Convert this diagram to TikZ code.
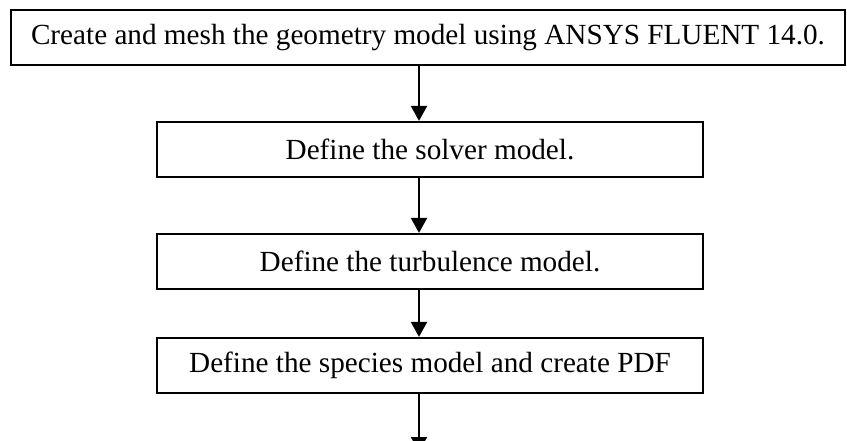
\documentclass[tikz,border=0pt]{standalone}
\usepackage{fontspec}
\setmainfont{Liberation Serif}
\usetikzlibrary{arrows.meta}

\begin{document}
\begin{tikzpicture}[x=1pt, y=-1pt,
    stepbox/.style={draw, line width=2.2pt, minimum height=55pt, inner sep=0pt,
      font=\fontsize{29.2}{35}\selectfont},
    flow/.style={-{Triangle[width=16pt,length=15pt]}, line width=2pt}]
  \useasboundingbox (0,0) rectangle (847,441);
  \node[stepbox, minimum width=834pt] (Mesh) at (428,37.5) {Create and mesh the geometry model using ANSYS FLUENT 14.0.};
  \node[stepbox, minimum width=546pt] (Solver) at (430,149.5) {Define the solver model.};
  \node[stepbox, minimum width=546pt] (Turb) at (430,261.5) {Define the turbulence model.};
  \node[stepbox, minimum width=546pt] (Species) at (430,365.5) {Define the species model and create PDF};
  % arrows run a bit left of the box centres
  \coordinate (ax) at (419,0);
  \coordinate (Next) at (419,452);
  \draw[flow] (ax |- Mesh.south) -- (ax |- Solver.north);
  \draw[flow] (ax |- Solver.south) -- (ax |- Turb.north);
  \draw[flow] (ax |- Turb.south) -- (ax |- Species.north);
  \draw[flow] (ax |- Species.south) -- (Next);
\end{tikzpicture}
\end{document}
